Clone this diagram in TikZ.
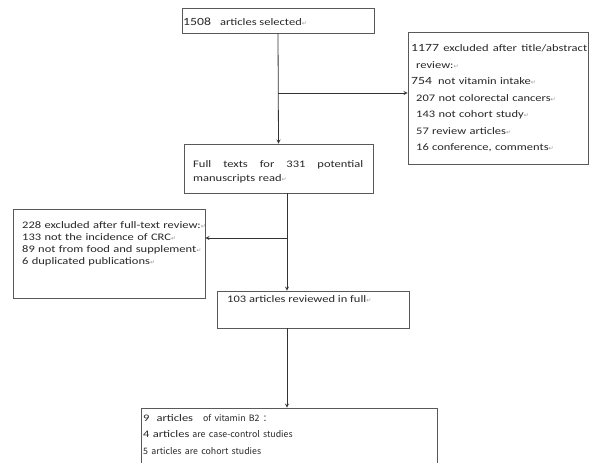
\documentclass[tikz,border=0pt]{standalone}
\usepackage{fontspec}
\setmainfont{Carlito}[FakeStretch=1.25]
\newfontfamily\cjk{Noto Sans CJK SC}
\newfontfamily\symfont{DejaVu Sans}
\usepackage{tikz}
\usepackage{xcolor}
\usetikzlibrary{positioning}
\tikzstyle{box} = [rectangle, draw=black!65, line width=0.8pt, inner sep=0pt]
\tikzstyle{txt} = [inner sep=0pt, align=left, anchor=base west, text=black!85, font=\fontsize{10}{12}\selectfont]
\tikzstyle{arrow} = [line width=0.8pt, draw=black!80, ->, >=stealth]
\newcommand{\ret}{{\symfont\color{black!40}\fontsize{6}{6}\selectfont ↵}}
\newcommand{\bignum}[1]{{\fontsize{11}{11}\selectfont #1}}
\newcommand{\yh}[1]{{\cjk\fontsize{8.8}{8.8}\selectfont #1}}

\begin{document}
\begin{tikzpicture}[x=1pt, y=-1pt]
        \clip (0,0) rectangle (590,463);
        % boxes
        \node (sel) [box, minimum width=192pt, minimum height=25pt] at (278,20.5) {};
        \node (excl1) [box, minimum width=180pt, minimum height=132pt] at (498,98) {};
        \node (full) [box, minimum width=189pt, minimum height=49pt] at (278.5,168.5) {};
        \node (excl2) [box, minimum width=192pt, minimum height=89pt] at (109,253.5) {};
        \node (rev) [box, minimum width=192pt, minimum height=37pt] at (313,309.5) {};
        \node (vitb) [box, minimum width=296pt, minimum height=67pt] at (289,441.5) {};

        % texts
        \node (selT) [txt] at (183,25) {\bignum{1508}\hspace{9pt}articles selected\ret};
        \node (excl1T) [txt, text width=176pt, font=\fontsize{10}{16.5}\selectfont] at (411,52) {\bignum{1177}\hfill excluded\hfill after\hfill title/abstract\\
            \hspace*{5pt}review:\ret\\
            \bignum{754}\hspace{6pt}not vitamin intake\ret\\
            \hspace*{5pt}207 not colorectal cancers\ret\\
            \hspace*{5pt}143 not cohort study\ret\\
            \hspace*{5pt}57 review articles\ret\\
            \hspace*{5pt}16 conference, comments\ret};
        \node (fullT) [txt, text width=170pt, font=\fontsize{10}{14}\selectfont] at (193,167) {Full\hfill texts\hfill for\hfill 331\hfill potential\\
            manuscripts read\ret};
        \node (excl2T) [txt, text width=220pt, font=\fontsize{10}{12}\selectfont] at (22,228) {228 excluded after full-text review:\ret\\
            133 not the incidence of CRC\ret\\
            89 not from food and supplement\ret\\
            6 duplicated publications\ret};
        \node (revT) [txt] at (227,302) {103 articles reviewed in full\ret};
        \node (vitbT) [txt, text width=290pt, font=\fontsize{10}{16.5}\selectfont] at (143,421) {9\hspace{7pt}articles\hspace{10pt}\yh{of vitamin B2 ：}\\
            4 articles\hspace{3pt}\yh{are case-control studies}\\
            \yh{5 articles are cohort studies}};

        % connectors
        \coordinate (fork1) at (278,93);
        \coordinate (fork2) at (287,238);
        \draw [arrow] (sel.south) -- (full.north);
        \draw [arrow] (fork1) -- (fork1 -| excl1.west);
        \draw [arrow] (fork2 |- full.south) -- (fork2 |- rev.north);
        \draw [arrow] (fork2) -- (fork2 -| excl2.east);
        \draw [arrow] (fork2 |- rev.south) -- (fork2 |- vitb.north);
    \end{tikzpicture}
\end{document}
